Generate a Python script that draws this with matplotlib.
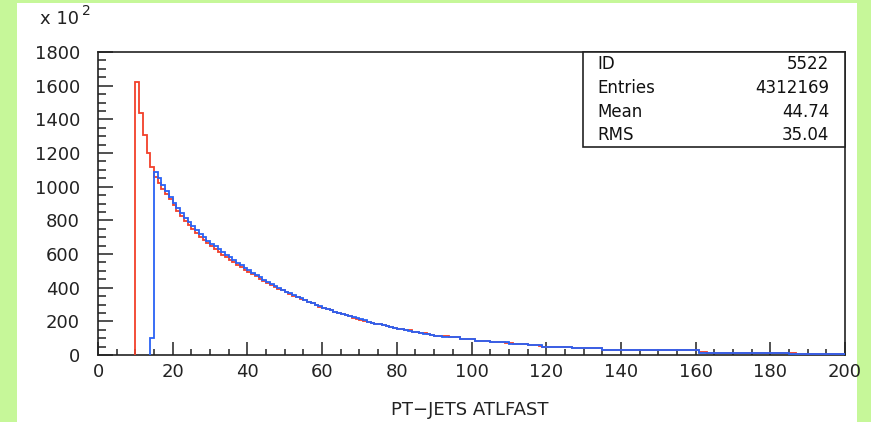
import numpy as np
import matplotlib
matplotlib.use("Agg")
import matplotlib.pyplot as plt
from matplotlib.patches import Rectangle
from matplotlib.ticker import MultipleLocator

# ---- data (values in units of 10^2) ----
red_first_edge = 10
red_counts_fine = [1620, 1435, 1305, 1200, 1115, 1055, 1020, 985, 955, 925,
                   890, 858, 828, 798, 772, 747, 724, 702, 682, 663,
                   645, 628, 612, 596, 581, 566, 551, 536, 521, 507,
                   493, 480, 467, 454, 442, 430, 418, 406, 395, 384,
                   373, 362, 353, 343, 333, 324, 315, 306, 297, 288,
                   280, 273, 265, 257, 250, 243, 236, 229, 222, 216,
                   210, 204, 198, 192, 187, 182, 177, 172, 167, 162,
                   157, 152, 148, 146, 139, 136, 131, 128, 123, 119,
                   115, 111]
red_tail_edges = [94, 97, 101, 105, 109, 111, 112, 114, 115, 118, 119, 127,
                  135, 140, 142, 161, 163, 185, 187, 200]
red_tail_counts = [110, 104, 93, 83, 75, 71, 67, 63, 67, 59, 55, 49,
                   40, 28, 32, 28, 18, 14, 11, 8]

blue_first_edge = 14
blue_counts_fine = [100, 1090, 1050, 1010, 975, 940, 905, 875, 845, 815,
                    790, 765, 742, 720, 700, 680, 662, 645, 628, 612,
                    596, 580, 564, 548, 533, 518, 503, 489, 475, 461,
                    448, 435, 423, 411, 399, 388, 377, 366, 356, 346,
                    336, 326, 317, 308, 299, 290, 282, 274, 266, 258,
                    251, 244, 237, 230, 223, 217, 211, 205, 199, 193,
                    187, 182, 177, 172, 167, 162, 157, 152, 148, 144,
                    139, 135, 131, 127, 123, 119, 115, 111]
blue_tail_edges = [97, 101, 105, 110, 115, 119, 127, 135, 161, 185, 200]
blue_tail_counts = [104, 93, 83, 75, 67, 59, 49, 40, 28, 14, 8]

stats_labels = ["ID", "Entries", "Mean", "RMS"]
stats_values = ["5522", "4312169", "44.74", "35.04"]
x_label = "PT\u2212JETS ATLFAST"


def build(first, fine, tail_edges, tail_counts):
    edges = list(range(first, first + len(fine) + 1)) + list(tail_edges)
    counts = list(fine) + list(tail_counts)
    return np.array(edges, float), np.array(counts, float)


red_edges, red_counts = build(red_first_edge, red_counts_fine, red_tail_edges, red_tail_counts)
blue_edges, blue_counts = build(blue_first_edge, blue_counts_fine, blue_tail_edges, blue_tail_counts)

# ---- figure ----
W, H = 871, 422
font = "DejaVu Sans"
fig = plt.figure(figsize=(W / 100, H / 100), dpi=100)
fig.patch.set_facecolor("#c6f799")
panel = Rectangle((17 / W, 0), (857 - 17) / W, 1 - 3 / H,
                  transform=fig.transFigure, facecolor="white",
                  edgecolor="none", zorder=-10)
fig.patches.append(panel)

ax = fig.add_axes([98 / W, 1 - 355 / H, (845 - 98) / W, (355 - 52) / H])
ax.set_zorder(5)
ax.set_facecolor("white")

ax.stairs(red_counts, red_edges, baseline=0, color="#f2402a", lw=1.3, zorder=3)
ax.stairs(blue_counts, blue_edges, baseline=0, color="#2a62f5", lw=1.3, zorder=4)

ax.set_xlim(0, 200)
ax.set_ylim(0, 1800)
ax.xaxis.set_major_locator(MultipleLocator(20))
ax.xaxis.set_minor_locator(MultipleLocator(5))
ax.yaxis.set_major_locator(MultipleLocator(200))
ax.yaxis.set_minor_locator(MultipleLocator(50))

ax.tick_params(axis="x", which="major", direction="in", length=9.4, width=1.1,
               pad=6, labelsize=13, colors="#222222")
ax.tick_params(axis="x", which="minor", direction="in", length=4.3, width=1.1,
               colors="#222222")
ax.tick_params(axis="y", which="major", direction="in", length=10.8, width=1.1,
               pad=13, labelsize=13, colors="#222222")
ax.tick_params(axis="y", which="minor", direction="in", length=5.8, width=1.1,
               colors="#222222")
for lab in ax.get_xticklabels() + ax.get_yticklabels():
    lab.set_family(font)
for s in ax.spines.values():
    s.set_linewidth(1.2)
    s.set_color("#222222")

# x label
fig.text(470 / W, 1 - 410 / H, x_label, fontsize=13, family=font,
         ha="center", va="center", color="#222222")

# x 10^2 multiplier
fig.text(40 / W, 1 - 24 / H, "x 10", fontsize=13, family=font, ha="left",
         va="baseline", color="#222222")
fig.text(82 / W, 1 - 15 / H, "2", fontsize=10, family=font, ha="left",
         va="baseline", color="#222222")

# stats box
bx0 = (583 - 98) / (845 - 98)
by0 = (355 - 147) / (355 - 52)
ax.add_patch(Rectangle((bx0, by0), 1 - bx0, 1 - by0, transform=ax.transAxes,
                       facecolor="white", edgecolor="#222222", lw=1.2, zorder=6,
                       clip_on=False))
row_y = [64, 88, 112, 135]
for lab, val, yy in zip(stats_labels, stats_values, row_y):
    ax.text(597 / W, 1 - yy / H, lab, fontsize=12, family=font, ha="left",
            va="center", color="#111111", zorder=7, transform=fig.transFigure)
    ax.text(829 / W, 1 - yy / H, val, fontsize=12, family=font, ha="right",
            va="center", color="#111111", zorder=7, transform=fig.transFigure)

fig.savefig("out.png", dpi=100, facecolor=fig.get_facecolor())
